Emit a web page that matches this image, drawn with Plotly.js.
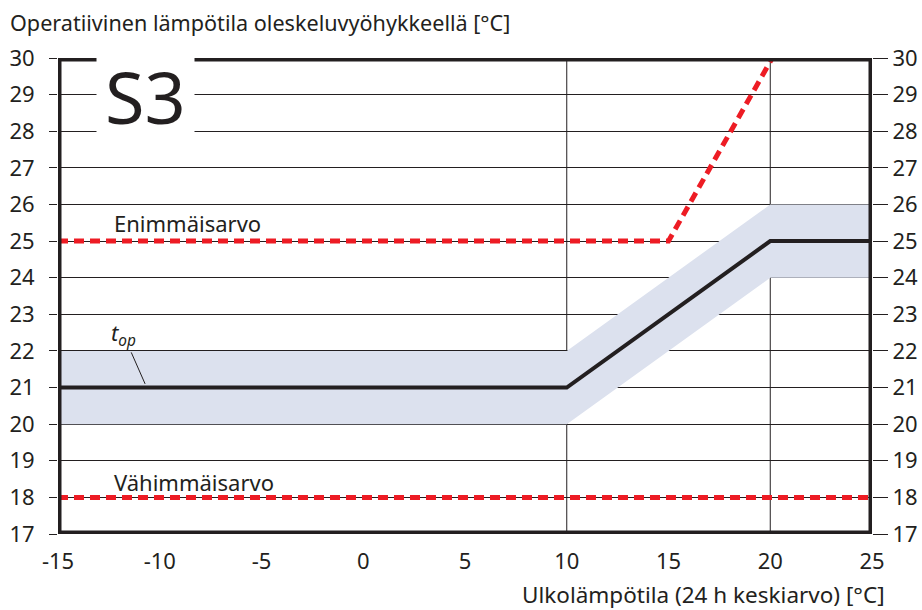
<!DOCTYPE html>
<html>
<head>
<meta charset="utf-8">
<script src="https://cdn.plot.ly/plotly-3.0.1.min.js"></script>
<style>
  html, body { margin: 0; padding: 0; background: #ffffff; }
  #chart { width: 922px; height: 610px; }
</style>
</head>
<body>
<div id="chart"></div>
<script>
// ---- data ----
const xTickVals = [-15, -10, -5, 0, 5, 10, 15, 20, 25];
const xTickText = ['-15', '-10', '-5', '0', '5', '10', '15', '20', '25'];
const yTickVals = [17, 18, 19, 20, 21, 22, 23, 24, 25, 26, 27, 28, 29, 30];
const xRange = [-15, 25];
const yRange = [17, 30];
const vGridVals = [10, 20];

// operative temperature t_op (black line) and its tolerance band
const topX = [-15, 10, 20, 25];
const topY = [21, 21, 25, 25];
const bandUpper = [22, 22, 26, 26];
const bandLower = [20, 20, 24, 24];

// maximum value (Enimmäisarvo), red dashed
const maxX = [-15, 15, 20.1];
const maxY = [25, 25, 30];

// minimum value (Vähimmäisarvo), red dashed
const minX = [-15, 25];
const minY = [18, 18];

const labelS3 = 'S3';
const labelMax = 'Enimmäisarvo';
const labelMin = 'Vähimmäisarvo';
const labelTop = '<i>t</i><sub><i>op</i></sub>';
const yTitle = 'Operatiivinen lämpötila oleskeluvyöhykkeellä [°C]';
const xTitle = 'Ulkolämpötila (24 h keskiarvo) [°C]';

// ---- styling ----
const INK = '#231f20';
const RED = '#ed1c24';
const BAND = '#dce1ee';
const FONT = 'Noto Sans, Open Sans, sans-serif';

const traces = [
  { x: topX, y: bandLower, type: 'scatter', mode: 'lines',
    line: { width: 0, color: BAND }, hoverinfo: 'skip', showlegend: false },
  { x: topX, y: bandUpper, type: 'scatter', mode: 'lines', fill: 'tonexty',
    fillcolor: BAND, line: { width: 0, color: BAND }, hoverinfo: 'skip', showlegend: false },
  { x: maxX, y: maxY, type: 'scatter', mode: 'lines',
    line: { color: RED, width: 5, dash: '10px,6px' }, showlegend: false },
  { x: minX, y: minY, type: 'scatter', mode: 'lines',
    line: { color: RED, width: 5, dash: '10px,6px' }, showlegend: false },
  { x: topX, y: topY, type: 'scatter', mode: 'lines',
    line: { color: INK, width: 4 }, showlegend: false },
  // carrier for the right-hand axis
  { x: minX, y: minY, yaxis: 'y2', type: 'scatter', mode: 'lines',
    line: { width: 0 }, hoverinfo: 'skip', showlegend: false, opacity: 0 }
];

const shapes = vGridVals.map(v => ({
  type: 'line', xref: 'x', yref: 'paper', x0: v, x1: v, y0: 0, y1: 1,
  line: { color: INK, width: 1 }, layer: 'below'
}));
shapes.push({
  type: 'rect', xref: 'x', yref: 'y',
  x0: xRange[0], x1: xRange[1], y0: yRange[0], y1: yRange[1],
  line: { color: INK, width: 7 }, fillcolor: 'rgba(0,0,0,0)', layer: 'above'
});

const layout = {
  width: 922, height: 610,
  margin: { l: 58, r: 50, t: 58, b: 76, pad: 0 },
  paper_bgcolor: '#ffffff', plot_bgcolor: '#ffffff',
  font: { family: FONT, size: 22, color: INK },
  showlegend: false,
  title: {
    text: yTitle, xref: 'container', yref: 'container',
    x: 10 / 922, xanchor: 'left', y: 1 - 23 / 610, yanchor: 'middle',
    font: { family: FONT, size: 21.6, color: INK }
  },
  xaxis: {
    range: xRange, tickvals: xTickVals, ticktext: xTickText, ticks: '', showgrid: false,
    zeroline: false, showline: false, tickfont: { size: 22, color: INK },
    ticklabelstandoff: 12, fixedrange: true
  },
  yaxis: {
    range: yRange, tickvals: yTickVals, ticks: 'outside', ticklen: 8,
    tickwidth: 1, tickcolor: INK, showgrid: true, gridcolor: INK, gridwidth: 1,
    zeroline: false, showline: false, tickfont: { size: 22, color: INK },
    ticklabelstandoff: 10, fixedrange: true
  },
  yaxis2: {
    range: yRange, tickvals: yTickVals, overlaying: 'y', side: 'right',
    ticks: 'outside', ticklen: 15, tickwidth: 1, tickcolor: INK,
    showgrid: false, zeroline: false, showline: false,
    tickfont: { size: 22, color: INK }, fixedrange: true
  },
  shapes: shapes,
  annotations: [
    { text: labelS3, x: -10.72, y: 28.95, xref: 'x', yref: 'y', showarrow: false,
      font: { family: FONT, size: 72, color: INK }, bgcolor: '#ffffff', borderpad: 8 },
    { text: labelMax, x: -12.35, y: 25.5, xref: 'x', yref: 'y', xanchor: 'left',
      showarrow: false, font: { family: FONT, size: 22, color: INK } },
    { text: labelMin, x: -12.35, y: 18.42, xref: 'x', yref: 'y', xanchor: 'left',
      showarrow: false, font: { family: FONT, size: 22, color: INK } },
    { text: labelTop, x: -10.72, y: 21.1, xref: 'x', yref: 'y', showarrow: true,
      arrowhead: 0, arrowwidth: 1, arrowcolor: INK, ax: -22, ay: -50, standoff: 0,
      font: { family: FONT, size: 22, color: INK } },
    { text: xTitle, xref: 'paper', yref: 'paper', x: 1 + 15 / 814, y: -(594 - 534) / 476,
      xanchor: 'right', yanchor: 'middle', showarrow: false,
      font: { family: FONT, size: 22.5, color: INK } }
  ]
};

Plotly.newPlot('chart', traces, layout, { displayModeBar: false, staticPlot: true });
</script>
</body>
</html>
